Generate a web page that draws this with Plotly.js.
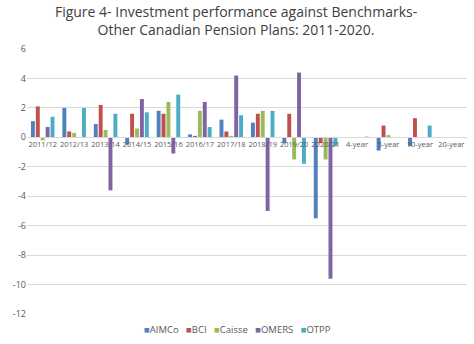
<!DOCTYPE html>
<html>
<head>
<meta charset="utf-8">
<script src="https://cdn.plot.ly/plotly-3.0.1.min.js"></script>
<style>html,body{margin:0;padding:0;background:#fff}#chart{width:474px;height:344px}</style>
</head>
<body>
<div id="chart"></div>
<script>
const categories = ["2011/12","2012/13","2013/14","2014/15","2015/16","2016/17","2017/18","2018/19","2019/20","2020/21","4-year","5-year","10-year","20-year"];
const seriesNames = ["AIMCo","BCI","Caisse","OMERS","OTPP"];
const seriesColors = ["#4F81BD","#C0504D","#9BBB59","#8064A2","#4BACC6"];
const AIMCo  = [1.1, 2.0, 0.9, -0.5, 1.8, 0.2, 1.2, 1.0, -0.4, -5.5, null, -0.9, -0.6, null];
const BCI    = [2.1, 0.4, 2.2, 1.6, 1.6, 0.1, 0.4, 1.6, 1.6, -0.4, null, 0.8, 1.3, null];
const Caisse = [-0.2, 0.3, 0.5, 0.6, 2.4, 1.8, 0.1, 1.8, -1.5, -1.5, null, 0.15, null, null];
const OMERS  = [0.7, null, -3.6, 2.6, -1.1, 2.4, 4.2, -5.0, 4.4, -9.6, null, null, null, null];
const OTPP   = [1.4, 2.0, 1.6, 1.7, 2.9, 0.7, 1.5, 1.8, -1.8, -0.6, 0.05, null, 0.8, null];
const seriesValues = [AIMCo, BCI, Caisse, OMERS, OTPP];
const yTicks = [-12,-10,-8,-6,-4,-2,0,2,4,6];

const traces = seriesNames.map((n,i)=>({
  type:'bar', name:n, x:categories, y:seriesValues[i],
  marker:{color:seriesColors[i]}, hoverinfo:'x+y+name'
}));

const legendText = seriesNames.map((n,i)=>'<span style="color:'+seriesColors[i]+'">■</span>'+n).join('   ');

const layout = {
  width:474, height:344,
  margin:{l:27, r:7, t:49, b:30},
  paper_bgcolor:'#fff', plot_bgcolor:'#fff',
  font:{family:'"Open Sans", sans-serif', color:'#595959'},
  title:{text:'Figure 4- Investment performance against Benchmarks-<br>Other Canadian Pension Plans: 2011-2020.',
    font:{family:'"Open Sans", sans-serif', size:14, color:'#404040'},
    x:0.498, xanchor:'center', yref:'container', y:0.95, yanchor:'top'},
  barmode:'group', bargap:0.22, bargroupgap:0.2,
  showlegend:false,
  xaxis:{type:'category', range:[-0.5,13.5], anchor:'free', position:12/18,
    showline:true, linecolor:'#d9d9d9', linewidth:1, ticks:'', showgrid:false,
    tickfont:{family:'"Open Sans",sans-serif', size:7.5, color:'#595959'},
    tickangle:0, fixedrange:true},
  yaxis:{range:[-12,6], tickvals:yTicks, ticktext:yTicks.map(String), showgrid:true, gridcolor:'#d9d9d9',
    zeroline:false, showline:false, ticks:'',
    tickfont:{family:'"Open Sans",sans-serif', size:9, color:'#595959'}, fixedrange:true},
  annotations:[{xref:'paper', yref:'paper', x:0.478, y:-0.057, xanchor:'center', yanchor:'middle',
    showarrow:false, text:legendText, font:{family:'"Open Sans",sans-serif', size:9.5, color:'#595959'}}]
};
Plotly.newPlot('chart', traces, layout, {displayModeBar:false, staticPlot:true});
</script>
</body>
</html>
